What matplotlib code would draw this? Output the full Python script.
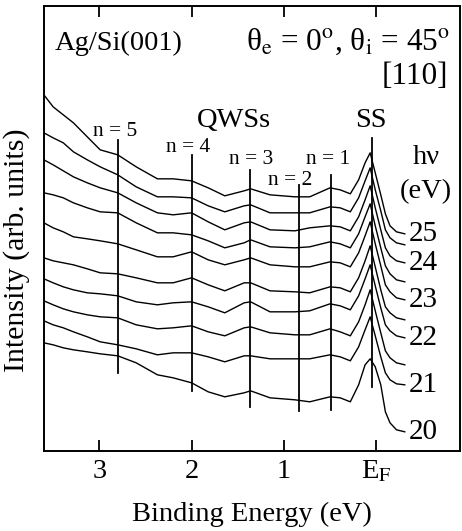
import matplotlib
matplotlib.use("Agg")
import matplotlib.pyplot as plt

plt.rcParams['font.family'] = ['Liberation Serif', 'DejaVu Serif']
plt.rcParams['mathtext.fontset'] = 'stix'

# binding energy (eV) of the sampled points, same for every spectrum
energy = [3.6, 3.5, 3.39, 3.28, 3.13, 2.99, 2.8, 2.6, 2.37, 2.2, 2.0,
          1.82, 1.64, 1.43, 1.36, 1.15, 0.88, 0.72, 0.50, 0.39,
          0.28, 0.19, 0.12, 0.065, 0.01, -0.05, -0.1, -0.15, -0.22, -0.31]

# spectra, top to bottom (arb. units, already offset)
spec_25 = [35.6, 34.4, 33.6, 32.8, 31.4, 30.1, 29.6, 28.4, 27.2, 27.2, 27.0,
           26.3, 25.5, 26.0, 26.2, 25.6, 25.4, 25.4, 26.3, 26.1,
           25.7, 27.1, 28.8, 29.8, 27.8, 25.6, 23.7, 22.5, 21.9, 21.7]
spec_245 = [31.8, 31.3, 30.8, 29.9, 29.1, 28.4, 27.6, 26.4, 25.4, 25.4, 25.3,
            24.5, 23.9, 24.5, 24.6, 23.8, 23.8, 23.8, 24.4, 24.3,
            23.9, 25.3, 27.0, 28.3, 26.1, 24.0, 22.1, 21.3, 20.8, 20.6]
spec_24 = [29.1, 28.6, 28.0, 27.4, 26.8, 26.3, 25.8, 24.8, 23.8, 23.6, 23.8,
           22.9, 22.1, 22.8, 22.9, 22.1, 22.0, 22.3, 22.5, 22.4,
           22.0, 23.4, 25.1, 26.5, 24.3, 22.1, 20.3, 19.5, 19.0, 18.8]
spec_235 = [25.8, 25.6, 25.3, 24.8, 24.3, 23.9, 23.8, 22.8, 21.8, 21.8, 21.6,
            21.0, 20.3, 20.8, 21.1, 20.4, 20.3, 20.4, 20.9, 20.7,
            20.3, 21.7, 23.4, 24.7, 22.5, 20.3, 18.5, 17.7, 17.1, 16.9]
spec_23 = [22.8, 22.3, 21.9, 21.4, 21.2, 21.0, 20.7, 20.1, 19.4, 19.4, 19.9,
           19.1, 18.6, 19.1, 19.3, 18.6, 18.4, 18.4, 18.9, 18.8,
           18.4, 19.8, 21.5, 22.9, 20.7, 18.5, 16.6, 15.9, 15.3, 15.1]
spec_225 = [19.3, 19.0, 18.8, 18.6, 18.2, 17.8, 17.7, 17.3, 16.8, 16.8, 17.3,
            16.6, 16.0, 16.8, 16.8, 16.0, 15.9, 15.8, 16.4, 16.3,
            15.9, 17.3, 19.0, 20.5, 18.4, 16.1, 14.4, 13.8, 13.3, 13.1]
spec_22 = [17.2, 16.8, 16.4, 16.1, 15.8, 15.7, 15.5, 14.9, 14.6, 14.8, 14.9,
           14.4, 13.8, 14.8, 14.9, 13.9, 13.9, 14.0, 14.7, 14.5,
           14.1, 15.5, 17.2, 18.6, 16.5, 14.3, 12.6, 12.0, 11.5, 11.3]
spec_215 = [15.0, 14.6, 14.2, 13.9, 13.6, 13.4, 13.3, 12.6, 12.2, 12.3, 12.5,
            11.9, 11.5, 12.3, 12.4, 11.8, 11.6, 11.6, 12.2, 11.9,
            11.5, 12.9, 14.6, 16.1, 14.0, 11.8, 10.0, 9.3, 8.8, 8.6]
spec_21 = [13.0, 12.6, 12.3, 11.9, 11.4, 10.9, 10.6, 10.2, 9.6, 9.8, 9.8,
           9.4, 8.9, 9.5, 9.5, 9.2, 9.2, 9.2, 9.6, 9.4,
           9.0, 10.4, 12.1, 13.4, 11.5, 9.4, 7.8, 7.1, 6.7, 6.6]
spec_20 = [10.8, 10.6, 10.3, 10.1, 9.9, 9.7, 9.5, 8.8, 7.6, 7.3, 6.8,
           5.9, 5.4, 5.8, 6.0, 5.3, 5.1, 4.9, 5.4, 5.3,
           4.9, 6.6, 8.6, 9.2, 8.4, 6.6, 3.9, 2.8, 2.1, 1.9]

spectra = [spec_25, spec_245, spec_24, spec_235, spec_23,
           spec_225, spec_22, spec_215, spec_21, spec_20]
hv_labels = ['25', '', '24', '', '23', '', '22', '', '21', '20']

# QWS / SS marker lines: energy, top, bottom
mark_e = [2.8, 2.0, 1.37, 0.84, 0.49, 0.05]
mark_top = [31.1, 29.6, 28.1, 26.6, 27.6, 31.3]
mark_bot = [7.8, 6.0, 4.4, 4.0, 4.1, 6.4]

fig = plt.figure(figsize=(4.62, 5.31), dpi=100)
ax = fig.add_axes([0.095, 0.151, 0.901, 0.838])

for s, lab in zip(spectra, hv_labels):
    ax.plot(energy, s, color='black', lw=1.0)
    if lab:
        ax.text(energy[-1] - 0.04, s[-1], lab, fontsize=21,
                ha='left', va='center')

for e, t, b in zip(mark_e, mark_top, mark_bot):
    ax.plot([e, e], [b, t], color='black', lw=1.3)

fs = 20.5
nfs = 15.5
ax.text(2.83, 31.9, 'n = 5', fontsize=nfs, ha='center', va='center')
ax.text(2.04, 30.3, 'n = 4', fontsize=nfs, ha='center', va='center')
ax.text(1.36, 29.1, 'n = 3', fontsize=nfs, ha='center', va='center')
ax.text(0.93, 27.0, 'n = 2', fontsize=nfs, ha='center', va='center')
ax.text(0.52, 29.1, 'n = 1', fontsize=nfs, ha='center', va='center')
ax.text(1.54, 33.0, 'QWSs', fontsize=fs, ha='center', va='center')
ax.text(0.06, 33.0, 'SS', fontsize=fs, ha='center', va='center')
ax.text(-0.54, 29.3, 'h\u03bd', fontsize=fs, ha='center', va='center')
ax.text(-0.54, 25.9, '(eV)', fontsize=fs, ha='center', va='center')
ax.text(3.48, 40.7, 'Ag/Si(001)', fontsize=fs, ha='left', va='center')
ax.text(-0.80, 40.9,
        '\u03b8$_{\\rm e}$ = 0$^{\\rm o}$, \u03b8$_{\\rm i}$ = 45$^{\\rm o}$',
        fontsize=fs + 2, ha='right', va='center')
ax.text(-0.78, 37.4, '[110]', fontsize=fs + 2, ha='right', va='center')

ax.set_xlim(3.6, -0.91)
ax.set_ylim(0, 44.5)
ax.set_xticks([3, 2, 1, 0])
ax.set_xticklabels(['3', '2', '1', r'E$_{\rm F}$'], fontsize=fs)
ax.set_yticks([])
ax.tick_params(axis='x', direction='in', length=8, width=1.3,
               top=True, pad=6)
for sp in ax.spines.values():
    sp.set_linewidth(1.4)

ax.set_xlabel('Binding Energy (eV)', fontsize=fs, labelpad=12)
ax.set_ylabel('Intensity (arb. units)', fontsize=fs + 1)
ax.yaxis.set_label_coords(-0.034, 0.45)

fig.savefig('out.png', dpi=100)
